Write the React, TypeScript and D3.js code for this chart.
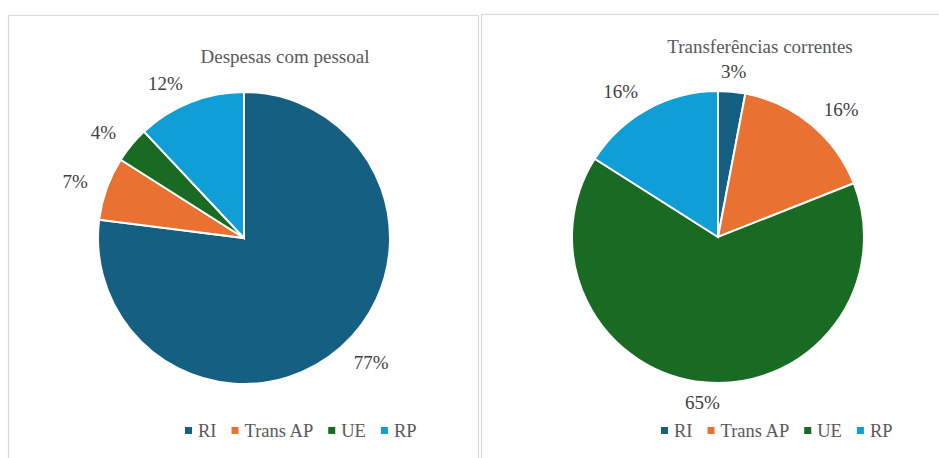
import React, { useEffect, useRef } from "react";
import * as d3 from "d3";

const categories = ["RI", "Trans AP", "UE", "RP"];
const colors = ["#156082", "#E97132", "#196B24", "#0F9ED5"];
const chartTitles = ["Despesas com pessoal", "Transferências correntes"];
const despesasPessoal = [77, 7, 4, 12];
const transferenciasCorrentes = [3, 16, 65, 16];

const panels = [
  { x: 8, y: 15, w: 470, h: 460, cx: 244, cy: 238, r: 146, titleX: 285, titleY: 63, legendX: 185, values: despesasPessoal, title: chartTitles[0] },
  { x: 481, y: 14, w: 470, h: 460, cx: 718, cy: 237, r: 146, titleX: 760, titleY: 53, legendX: 661, values: transferenciasCorrentes, title: chartTitles[1] },
];

const FONT = "Liberation Serif, DejaVu Serif, serif";

export default function App() {
  const ref = useRef<SVGSVGElement | null>(null);

  useEffect(() => {
    const svg = d3.select(ref.current);
    svg.selectAll("*").remove();

    panels.forEach((p) => {
      const g = svg.append("g");
      g.append("rect")
        .attr("x", p.x + 0.5)
        .attr("y", p.y + 0.5)
        .attr("width", p.w)
        .attr("height", p.h)
        .attr("fill", "#fff")
        .attr("stroke", "#D9D9D9")
        .attr("stroke-width", 1.2);

      g.append("text")
        .attr("x", p.titleX)
        .attr("y", p.titleY)
        .attr("text-anchor", "middle")
        .style("font-family", FONT)
        .style("font-size", "19px")
        .attr("fill", "#595959")
        .text(p.title);

      const pie = d3.pie<number>().sort(null).value((d) => d);
      const arcs = pie(p.values);
      const arc = d3.arc<d3.PieArcDatum<number>>().innerRadius(0).outerRadius(p.r);
      const total = d3.sum(p.values);

      const pg = g.append("g").attr("transform", `translate(${p.cx},${p.cy})`);
      pg.selectAll("path")
        .data(arcs)
        .join("path")
        .attr("d", arc as any)
        .attr("fill", (_d, i) => colors[i])
        .attr("stroke", "#fff")
        .attr("stroke-width", 2);

      const labelR = p.r + 20;
      pg.selectAll("text")
        .data(arcs)
        .join("text")
        .each(function (d) {
          const a = (d.startAngle + d.endAngle) / 2;
          const s = Math.sin(a);
          const c = -Math.cos(a);
          const anchor = Math.abs(s) < 0.3 ? "middle" : s > 0 ? "start" : "end";
          d3.select(this)
            .attr("x", labelR * s)
            .attr("y", labelR * c)
            .attr("text-anchor", anchor)
            .attr("dominant-baseline", "central");
        })
        .style("font-family", FONT)
        .style("font-size", "19px")
        .attr("fill", "#404040")
        .text((d) => `${Math.round((d.value / total) * 100)}%`);

      const lg = g.append("g");
      let lx = p.legendX;
      const ly = 437;
      categories.forEach((cat, i) => {
        lg.append("rect")
          .attr("x", lx)
          .attr("y", ly - 10)
          .attr("width", 7)
          .attr("height", 7)
          .attr("fill", colors[i]);
        const t = lg.append("text")
          .attr("x", lx + 13)
          .attr("y", ly)
          .style("font-family", FONT)
          .style("font-size", "18.5px")
          .attr("fill", "#595959")
          .text(cat);
        const w = (t.node() as SVGTextElement).getComputedTextLength();
        lx += 13 + w + 15;
      });
    });
  }, []);

  return (
    <svg
      ref={ref}
      width={939}
      height={458}
      style={{ position: "absolute", left: 0, top: 0, background: "#fff" }}
    />
  );
}
